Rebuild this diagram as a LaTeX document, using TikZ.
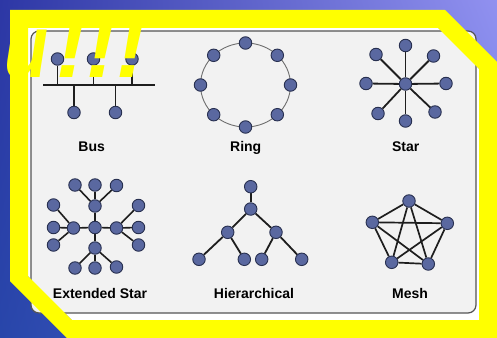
\documentclass[tikz,border=0pt]{standalone}
\usepackage{fontspec}
\setmainfont{Liberation Sans}
\usetikzlibrary{shadings}
\pgfdeclarelayer{back}
\pgfdeclarelayer{edges}
\pgfdeclarelayer{front}
\pgfsetlayers{back,edges,main,front}
\definecolor{nodefill}{RGB}{90,104,160}
\definecolor{nodeedge}{RGB}{40,48,80}
\definecolor{linkc}{RGB}{30,30,30}
\definecolor{panelc}{RGB}{242,242,242}
\definecolor{panelb}{RGB}{85,85,85}
\definecolor{bgll}{RGB}{40,70,170}
\definecolor{bgul}{RGB}{45,55,165}
\definecolor{bgur}{RGB}{145,145,240}
\definecolor{bglr}{RGB}{100,120,225}
\definecolor{ringc}{RGB}{110,110,110}
\definecolor{yell}{RGB}{255,255,0}
\begin{document}
\begin{tikzpicture}[x=1pt,y=-1pt,
  dev/.style={circle,inner sep=0pt,minimum size=12.5pt,fill=nodefill,draw=nodeedge,line width=0.9pt},
  link/.style={line width=1.8pt,draw=linkc},
  lbl/.style={font=\fontsize{14}{14}\selectfont\bfseries,text=black,inner sep=0pt,anchor=base}]
\useasboundingbox (0,0) rectangle (497,337);
\begin{pgfonlayer}{back}
\shade[lower left=bgll,upper left=bgul,upper right=bgur,lower right=bglr] (0,0) rectangle (497,337);
\fill[white] (28,28) -- (438,28) -- (479,69) -- (479,320) -- (72,320) -- (28,276) -- cycle;
\draw[rounded corners=8pt,fill=panelc,draw=panelb,line width=1.2pt] (31,31) rectangle (476,313);
\end{pgfonlayer}

% ---------- Bus ----------
\node[dev] (bt1) at (57.5,59) {};
\node[dev] (bt2) at (93.5,59) {};
\node[dev] (bt3) at (132,59) {};
\node[dev] (bb1) at (74,112.5) {};
\node[dev] (bb2) at (115.5,112.5) {};
\coordinate (busL) at (43,85);
\coordinate (busR) at (155,85);
\begin{pgfonlayer}{edges}
\draw[link] (busL) -- (busR);
\foreach \n in {bt1,bt2,bt3,bb1,bb2} \draw[link] (\n) -- (\n |- busL);
\end{pgfonlayer}
\node[lbl] (busl) at (91.7,151.5) {Bus};

% ---------- Ring ----------
\node[dev] (r0) at (290.5,85) {};
\node[dev] (r1) at (277.3,55.3) {};
\node[dev] (r2) at (245.5,43) {};
\node[dev] (r3) at (213.7,55.3) {};
\node[dev] (r4) at (200.5,85) {};
\node[dev] (r5) at (213.7,114.7) {};
\node[dev] (r6) at (245.5,127) {};
\node[dev] (r7) at (277.3,114.7) {};
\coordinate (rc) at (245.5,85);
\begin{pgfonlayer}{edges}
\draw[ringc,line width=0.9pt] (rc) ellipse [x radius=45pt,y radius=42pt];
\end{pgfonlayer}
\node[lbl] (ringl) at (245.7,151.5) {Ring};

% ---------- Star ----------
\node[dev] (sc) at (405.5,84) {};
\node[dev] (s1) at (405.5,45.5) {};
\node[dev] (s2) at (405.5,121) {};
\node[dev] (s3) at (366,83.5) {};
\node[dev] (s4) at (446,83.5) {};
\node[dev] (s5) at (376,54.5) {};
\node[dev] (s6) at (433.5,56) {};
\node[dev] (s7) at (378,113.5) {};
\node[dev] (s8) at (435,112) {};
\begin{pgfonlayer}{edges}
\foreach \n in {s1,s2,s3,s4,s5,s6,s7,s8} \draw[link] (sc) -- (\n);
\end{pgfonlayer}
\node[lbl] (starl) at (405.7,151.5) {Star};

% ---------- Extended Star ----------
\node[dev] (ec) at (95,227.5) {};
\node[dev] (eT) at (95,206) {};
\node[dev] (eB) at (95,248) {};
\node[dev] (eL) at (73.5,228) {};
\node[dev] (eR) at (116.5,228) {};
\node[dev] (eT1) at (75,185) {};
\node[dev] (eT2) at (95,185) {};
\node[dev] (eT3) at (116.5,185.5) {};
\node[dev] (eB1) at (75,268) {};
\node[dev] (eB2) at (95,268) {};
\node[dev] (eB3) at (116.5,267) {};
\node[dev] (eL1) at (53.5,205) {};
\node[dev] (eL2) at (53.5,227.5) {};
\node[dev] (eL3) at (53.5,245) {};
\node[dev] (eR1) at (138.5,205.5) {};
\node[dev] (eR2) at (138.5,227.5) {};
\node[dev] (eR3) at (138.5,245) {};
\begin{pgfonlayer}{edges}
\foreach \n in {eT,eB,eL,eR} \draw[link,line width=1.6pt] (ec) -- (\n);
\foreach \a in {T,B,L,R} \foreach \i in {1,2,3} \draw[link,line width=1.6pt] (e\a) -- (e\a\i);
\end{pgfonlayer}
\node[lbl] (extl) at (100,298) {Extended Star};

% ---------- Hierarchical ----------
\node[dev] (h0) at (250.7,186.7) {};
\node[dev] (h1) at (250.7,209) {};
\node[dev] (h2a) at (227.7,232.3) {};
\node[dev] (h2b) at (276,232.3) {};
\node[dev] (h3a) at (199,259.3) {};
\node[dev] (h3b) at (244.3,259.3) {};
\node[dev] (h3c) at (261.7,259.3) {};
\node[dev] (h3d) at (301.7,259.3) {};
\begin{pgfonlayer}{edges}
\draw[link] (h0) -- (h1);
\draw[link] (h1) -- (h2a);
\draw[link] (h1) -- (h2b);
\draw[link] (h2a) -- (h3a);
\draw[link] (h2a) -- (h3b);
\draw[link] (h2b) -- (h3c);
\draw[link] (h2b) -- (h3d);
\end{pgfonlayer}
\node[lbl] (hierl) at (254,298) {Hierarchical};

% ---------- Mesh ----------
\node[dev] (m1) at (409,201) {};
\node[dev] (m2) at (372.3,222.3) {};
\node[dev] (m3) at (447.3,223.3) {};
\node[dev] (m4) at (391.7,262.3) {};
\node[dev] (m5) at (428.3,264) {};
\begin{pgfonlayer}{edges}
\foreach \a/\b in {m1/m2,m1/m3,m1/m4,m1/m5,m2/m3,m2/m4,m2/m5,m3/m4,m3/m5,m4/m5}
  \draw[link,line width=1.7pt] (\a) -- (\b);
\end{pgfonlayer}
\node[lbl] (meshl) at (410,298) {Mesh};

% ---------- yellow frame and text ----------
\begin{pgfonlayer}{front}
\fill[yell,even odd rule] (10,10) -- (445,10) -- (520,85) -- (520,350) -- (79,350) -- (10,281) -- cycle
  (28,28) -- (438,28) -- (479,69) -- (479,320) -- (72,320) -- (28,276) -- cycle;
\node[anchor=base west,text=yell,inner sep=0pt,font=\fontsize{90}{90}\selectfont\bfseries\itshape] (shout) at (4,77) {\scalebox{0.8}[1]{u}\kern8pt!!!};
\end{pgfonlayer}
\end{tikzpicture}
\end{document}
